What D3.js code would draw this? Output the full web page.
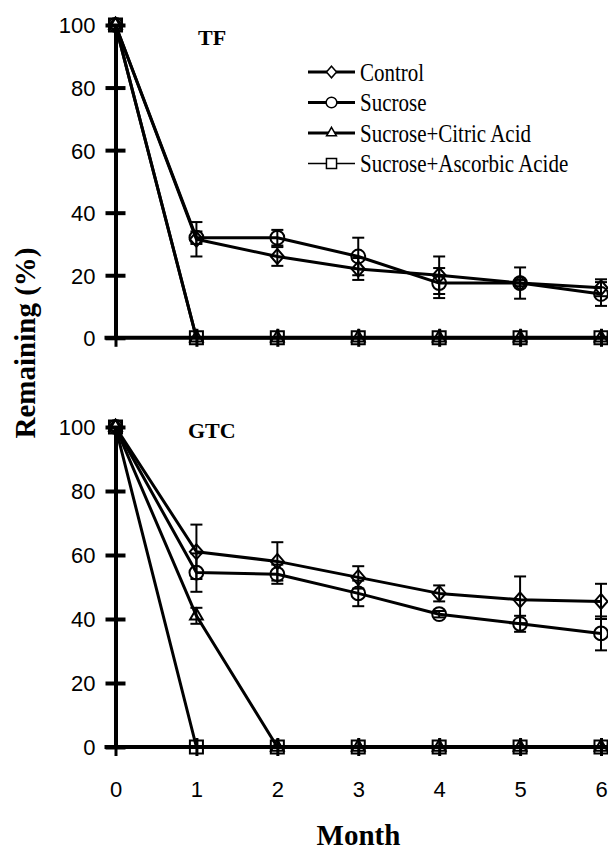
<!doctype html>
<html lang="en">
<head>
<meta charset="utf-8">
<title>Remaining (%) - TF and GTC</title>
<style>
  body{margin:0;background:#fff;}
  svg{display:block;}
</style>
</head>
<body>
<script src="https://cdn.jsdelivr.net/npm/d3@7"></script>
<script>

var months = [0, 1, 2, 3, 4, 5, 6];
var seriesNames = ["Control", "Sucrose", "Sucrose+Citric Acid", "Sucrose+Ascorbic Acide"];
var yTicks = [0, 20, 40, 60, 80, 100];

// TF panel
var tfControl     = [100, 31.5, 26, 22, 20, 17.5, 16];
var tfControlErr  = [0, 5.5, 3, 3.5, 6, 5, 2.7];
var tfSucrose     = [100, 32, 32, 26, 17.5, 17.5, 14];
var tfSucroseErr  = [0, 2, 2.5, 6, 4.8, 1, 3.8];
var tfCitric      = [100, 0, 0, 0, 0, 0, 0];
var tfCitricErr   = [0, 0, 0, 0, 0, 0, 0];
var tfAscorbic    = [100, 0, 0, 0, 0, 0, 0];
var tfAscorbicErr = [0, 0, 0, 0, 0, 0, 0];

// GTC panel
var gtcControl     = [100, 61, 58, 53, 48, 46, 45.5];
var gtcControlErr  = [0, 8.5, 6, 3.5, 2.5, 7.3, 5.5];
var gtcSucrose     = [100, 54.5, 54, 48, 41.5, 38.5, 35.5];
var gtcSucroseErr  = [0, 6, 3, 4, 1, 2.5, 5.3];
var gtcCitric      = [100, 41, 0, 0, 0, 0, 0];
var gtcCitricErr   = [0, 2.5, 0, 0, 0, 0, 0];
var gtcAscorbic    = [100, 0, 0, 0, 0, 0, 0];
var gtcAscorbicErr = [0, 0, 0, 0, 0, 0, 0];

var W = 608, H = 853;

var svg = d3.select("body").append("svg")
  .attr("width", W)
  .attr("height", H);

// diamond a bit wider than d3's own
var wideDiamond = {
  draw: function(ctx, size){
    var h = Math.sqrt(size) / 2, w = h * 0.87;
    ctx.moveTo(0, -h); ctx.lineTo(w, 0); ctx.lineTo(0, h); ctx.lineTo(-w, 0); ctx.closePath();
  }
};
var symbolTypes = [wideDiamond, d3.symbolCircle, d3.symbolTriangle, d3.symbolSquare];
var symbolSizes = [225, 150, 70, 170];

var x = d3.scaleLinear().domain([0, 6]).range([115.5, 601]);

function drawPanel(yRange, title, titleX, titleY, data, errs, showLabels){
  var y = d3.scaleLinear().domain([0, 100]).range(yRange);
  var g = svg.append("g");

  // x axis
  var xa = g.append("g")
    .attr("transform", "translate(0," + y(0) + ")")
    .call(d3.axisBottom(x).tickValues(months).tickSize(9).tickSizeOuter(0)
      .tickFormat(showLabels ? d3.format("d") : ""));
  xa.select(".domain").attr("d", "M" + (x(0) - 11) + ",0H" + W).attr("stroke-width", 4);
  xa.selectAll(".tick line").attr("y1", -9).attr("stroke-width", 3);
  xa.selectAll(".tick text")
    .attr("y", 50).attr("dy", 0)
    .style("font-family", "'Liberation Sans', Arial, sans-serif")
    .style("font-size", "22px").attr("fill", "#000");

  // y axis
  var ya = g.append("g")
    .attr("transform", "translate(" + x(0) + ",0)")
    .call(d3.axisLeft(y).tickValues(yTicks).tickSize(10).tickPadding(10).tickSizeOuter(0));
  ya.select(".domain").attr("stroke-width", 4);
  ya.selectAll(".tick line").attr("x1", 10).attr("stroke-width", 4);
  ya.selectAll(".tick text")
    .attr("dy", "0.36em")
    .style("font-family", "'Liberation Sans', Arial, sans-serif")
    .style("font-size", "22px").attr("fill", "#000");

  var line = d3.line().x(function(d, i){ return x(months[i]); }).y(function(d){ return y(d); });

  data.forEach(function(vals, s){
    g.append("path")
      .datum(vals)
      .attr("d", line)
      .attr("fill", "none")
      .attr("stroke", "#000")
      .attr("stroke-width", 3)
      .attr("stroke-linejoin", "round");

    var pts = vals.map(function(v, i){ return {m: months[i], v: v, e: errs[s][i]}; });

    var eb = g.selectAll(null).data(pts.filter(function(p){ return p.e > 0; })).enter().append("g")
      .attr("stroke", "#000").attr("stroke-width", 2);
    eb.append("line")
      .attr("x1", function(p){ return x(p.m); }).attr("x2", function(p){ return x(p.m); })
      .attr("y1", function(p){ return y(p.v + p.e); }).attr("y2", function(p){ return y(p.v - p.e); });
    eb.append("line")
      .attr("x1", function(p){ return x(p.m) - 6; }).attr("x2", function(p){ return x(p.m) + 6; })
      .attr("y1", function(p){ return y(p.v + p.e); }).attr("y2", function(p){ return y(p.v + p.e); });
    eb.append("line")
      .attr("x1", function(p){ return x(p.m) - 6; }).attr("x2", function(p){ return x(p.m) + 6; })
      .attr("y1", function(p){ return y(p.v - p.e); }).attr("y2", function(p){ return y(p.v - p.e); });

    g.selectAll(null).data(pts).enter().append("path")
      .attr("transform", function(p){ return "translate(" + x(p.m) + "," + y(p.v) + ")"; })
      .attr("d", d3.symbol().type(symbolTypes[s]).size(symbolSizes[s]))
      .attr("fill", "none")
      .attr("stroke", "#000")
      .attr("stroke-width", 2);
  });

  g.append("text")
    .attr("x", titleX).attr("y", titleY)
    .style("font-family", "'Liberation Serif', 'Times New Roman', serif")
    .style("font-weight", "bold").style("font-size", "22px")
    .text(title);
}

drawPanel([337.8, 25], "TF", 198, 45,
  [tfControl, tfSucrose, tfCitric, tfAscorbic],
  [tfControlErr, tfSucroseErr, tfCitricErr, tfAscorbicErr], false);

drawPanel([747, 427], "GTC", 188, 438,
  [gtcControl, gtcSucrose, gtcCitric, gtcAscorbic],
  [gtcControlErr, gtcSucroseErr, gtcCitricErr, gtcAscorbicErr], true);

// legend
var legend = svg.append("g").attr("transform", "translate(308,72)");
var rows = legend.selectAll("g").data(seriesNames).enter().append("g")
  .attr("transform", function(d, i){ return "translate(0," + (i * 30.5) + ")"; });
rows.append("line")
  .attr("x1", 0).attr("x2", 47).attr("y1", 0).attr("y2", 0)
  .attr("stroke", "#000")
  .attr("stroke-width", function(d, i){ return i === 3 ? 1.5 : 3; });
rows.append("path")
  .attr("transform", "translate(23.5,0)")
  .attr("d", function(d, i){ return d3.symbol().type(symbolTypes[i]).size(symbolSizes[i] * 0.6)(); })
  .attr("fill", "#fff")
  .attr("stroke", "#000")
  .attr("stroke-width", 1.5);
rows.append("text")
  .attr("transform", "translate(52,0) scale(1,1.18)")
  .attr("dy", "0.35em")
  .style("font-family", "'Liberation Serif', 'Times New Roman', serif")
  .style("font-size", "21px")
  .text(function(d){ return d; });

// axis titles
svg.append("text")
  .attr("transform", "translate(35,343) rotate(-90)")
  .attr("text-anchor", "middle")
  .style("font-family", "'Liberation Serif', 'Times New Roman', serif")
  .style("font-weight", "bold").style("font-size", "29px")
  .text("Remaining (%)");

svg.append("text")
  .attr("x", 358.5).attr("y", 845)
  .attr("text-anchor", "middle")
  .style("font-family", "'Liberation Serif', 'Times New Roman', serif")
  .style("font-weight", "bold").style("font-size", "29px")
  .text("Month");

</script>
</body>
</html>
